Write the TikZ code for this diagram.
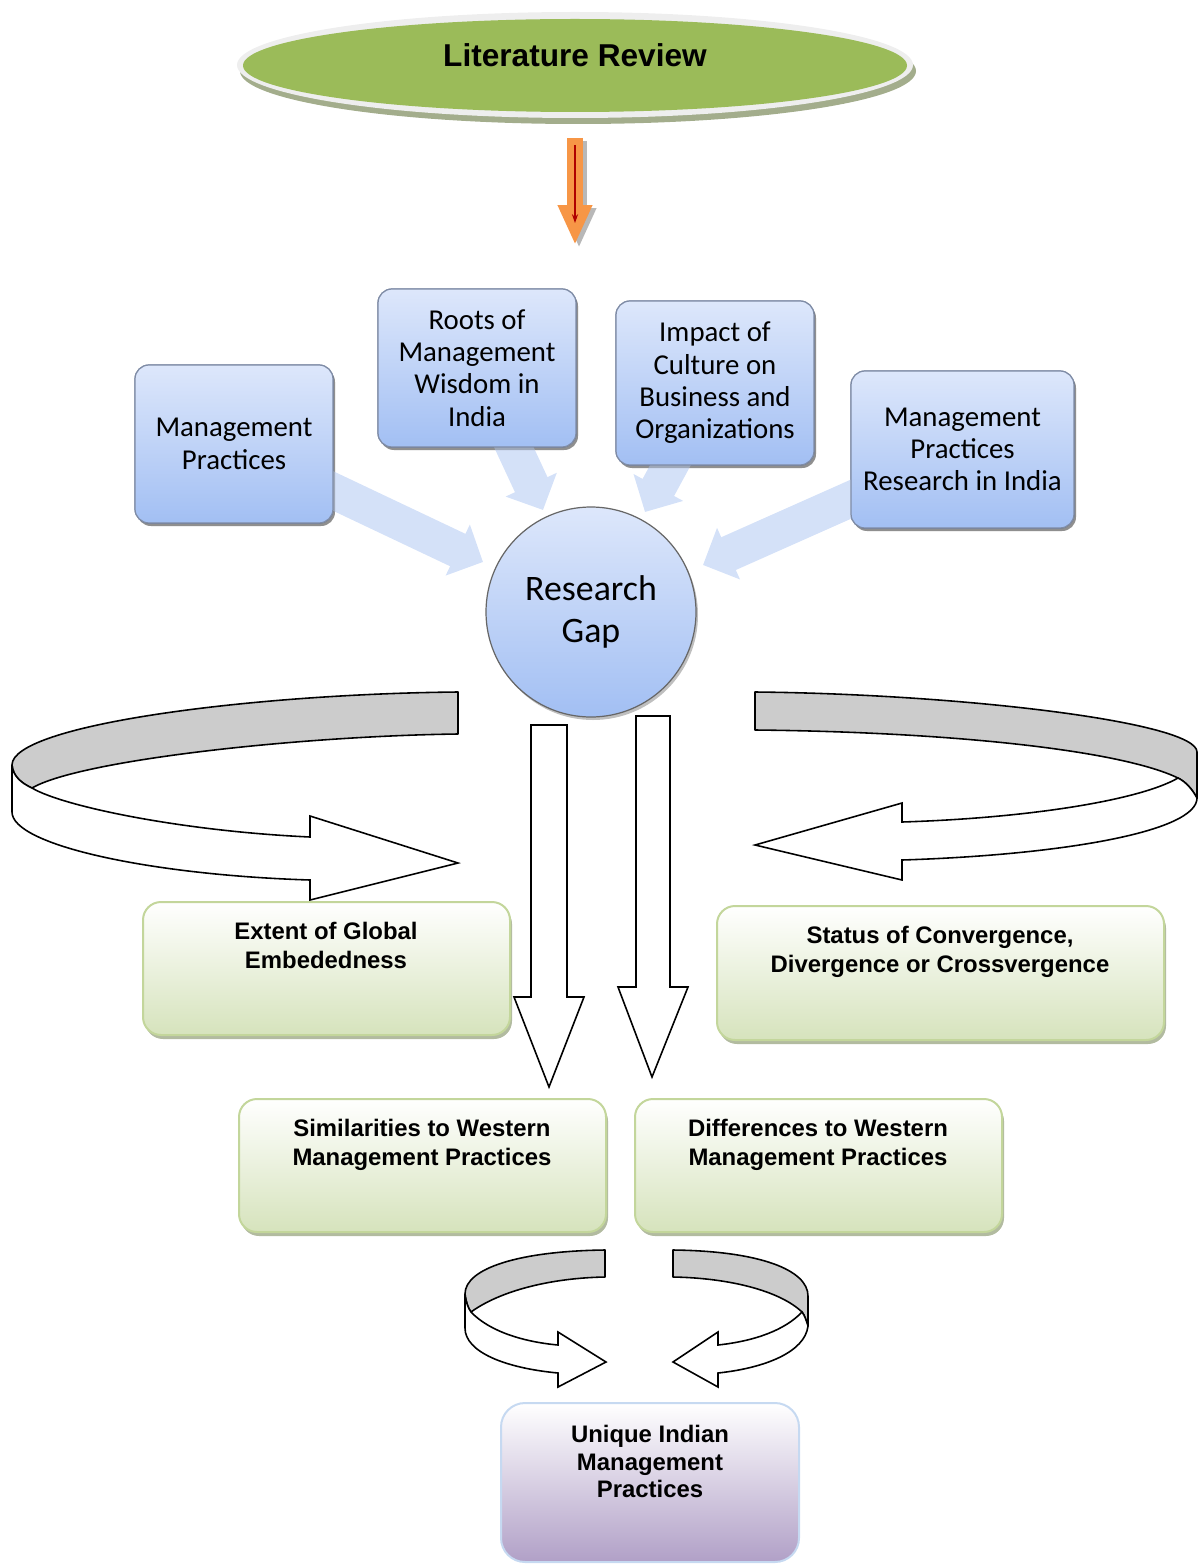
\documentclass[tikz,border=0pt]{standalone}
\usepackage{fontspec}
\setmainfont{Liberation Sans}
\newfontfamily\calibri{Carlito}
\usetikzlibrary{arrows.meta,shapes.geometric,shadows}

\newlength\pxu
\setlength\pxu{0.02cm}

\definecolor{litgreen}{HTML}{9BBB59}
\definecolor{litrim}{HTML}{EEEEEE}
\definecolor{litshadow}{HTML}{A3AD8C}
\definecolor{orangefill}{HTML}{F79646}
\definecolor{darkred}{HTML}{B00000}
\definecolor{bluetop}{HTML}{DDE7FB}
\definecolor{bluebottom}{HTML}{A2BFF3}
\definecolor{blueline}{HTML}{7F8CA6}
\definecolor{lbcol}{HTML}{D4E1F8}
\definecolor{greenline}{HTML}{C3D69B}
\definecolor{greenbottom}{HTML}{D6E3BC}
\definecolor{greenshadow}{HTML}{9FAA88}
\definecolor{sweepgrey}{HTML}{CCCCCC}
\definecolor{purplebottom}{HTML}{B1A0C7}
\definecolor{uniqueline}{HTML}{C6D9F1}

\begin{document}
\begin{tikzpicture}[x=0.02cm,y=-0.02cm,
  bluebox/.style={draw=blueline, line width=0.7pt, rounded corners=14\pxu,
    top color=bluetop, bottom color=bluebottom, align=center, inner sep=0pt,
    font=\calibri\fontsize{16.4pt}{18.4pt}\selectfont,
    drop shadow={shadow xshift=2\pxu, shadow yshift=-3\pxu, fill=black, opacity=0.25}},
  greenbox/.style={draw=greenline, line width=2\pxu, rounded corners=18\pxu,
    top color=white, bottom color=greenbottom, inner sep=0pt,
    drop shadow={shadow xshift=2\pxu, shadow yshift=-4\pxu, fill=greenshadow, opacity=0.8}},
  boxtext/.style={anchor=north, inner sep=0pt, align=center,
    font=\bfseries\fontsize{13.6pt}{16.4pt}\selectfont},
  lbarrow/.style={draw=lbcol, line width=20.4pt, -{Triangle[length=15.9pt,width=31.2pt]}},
  blockarrow/.style={draw=black, fill=white, line width=0.9pt, line join=miter},
  sweepback/.style={draw=black, fill=sweepgrey, line width=0.9pt, line join=round},
  sweepfront/.style={draw=black, fill=white, line width=0.9pt, line join=miter},
]
\useasboundingbox (0,0) rectangle (1200,1564);

% ---- title ellipse ----
\node[ellipse, fill=litshadow, minimum width=676\pxu, minimum height=106\pxu, inner sep=0pt] (litS) at (578,71) {};
\node[ellipse, fill=litrim, minimum width=676\pxu, minimum height=106\pxu, inner sep=0pt] (litR) at (575,65) {};
\node[ellipse, fill=litgreen, minimum width=664\pxu, minimum height=93\pxu, inner sep=0pt] (lit) at (575,65.5) {};
\node[font=\bfseries\fontsize{18pt}{20pt}\selectfont, inner sep=0pt] (litT) at (575,55) {Literature Review};

% ---- orange arrow ----
\coordinate (oTop) at (575,138);
\coordinate (oTip) at (575,245);
\coordinate (oTopS) at (579,141);
\coordinate (oTipS) at (579,248);
\draw[draw=gray!70, opacity=0.8, line width=9.6pt, -{Triangle[length=22.7pt,width=18.1pt]}] (oTopS) -- (oTipS);
\draw[draw=orangefill, line width=9.6pt, -{Triangle[length=22.7pt,width=18.1pt]}] (oTop) -- (oTip);
\coordinate (rTop) at (575,145);
\coordinate (rTip) at (575,223);
\draw[draw=darkred, line width=0.6pt, -{Stealth[length=5pt,width=3.5pt]}] (rTop) -- (rTip);

% ---- source boxes ----
\node[bluebox, minimum width=198\pxu, minimum height=158\pxu] (mp) at (234,444) {};
\node[bluebox, minimum width=198\pxu, minimum height=158\pxu] (roots) at (477,368) {};
\node[bluebox, minimum width=198\pxu, minimum height=164\pxu] (impact) at (715,383) {};
\node[bluebox, minimum width=223\pxu, minimum height=157\pxu] (mpr) at (962.5,449.5) {};

% ---- light arrows into the research gap ----
\coordinate (mpTip) at (483,562);
\coordinate (rootsTip) at (543,510);
\coordinate (impactTip) at (645,512);
\coordinate (mprTip) at (703,565);
\draw[lbarrow] (mp.center) -- (mpTip);
\draw[lbarrow] (roots.center) -- (rootsTip);
\draw[lbarrow] (impact.center) -- (impactTip);
\draw[lbarrow] (mpr.center) -- (mprTip);

% boxes again on top of the arrow shafts
\node[bluebox, minimum width=198\pxu, minimum height=158\pxu] (mpF) at (234,444) {Management\\Practices};
\node[bluebox, minimum width=198\pxu, minimum height=158\pxu] (rootsF) at (477,368) {Roots of\\Management\\Wisdom in\\India};
\node[bluebox, minimum width=198\pxu, minimum height=164\pxu] (impactF) at (715,383) {Impact of\\Culture on\\Business and\\Organizations};
\node[bluebox, minimum width=223\pxu, minimum height=157\pxu] (mprF) at (962.5,449.5) {Management\\Practices\\Research in India};

% ---- research gap ----
\node[circle, draw=gray!80!black, line width=0.7pt, top color=bluetop, bottom color=bluebottom,
  minimum size=210\pxu, inner sep=0pt, align=center,
  font=\calibri\fontsize{20.4pt}{23.8pt}\selectfont,
  drop shadow={shadow xshift=2\pxu, shadow yshift=-3\pxu, fill=black, opacity=0.25}]
  (rg) at (591,612) {Research\\Gap};

% ---- left sweep arrow ----
\filldraw[sweepback] (458,692) .. controls (250,694) and (12,725) .. (12,765)
  .. controls (13,776) and (21,783) .. (32,788)
  .. controls (80,760) and (300,736) .. (458,734) -- cycle;
\filldraw[sweepfront] (12,765) .. controls (13,776) and (21,783) .. (32,788)
  .. controls (62,806) and (180,831) .. (310,837) -- (310,816) -- (458,863)
  -- (310,900) -- (310,880) .. controls (150,875) and (12,845) .. (12,812) -- cycle;

% ---- right sweep arrow ----
\filldraw[sweepback] (755,692) .. controls (960,694) and (1197,722) .. (1197,752)
  -- (1197,798) .. controls (1192,789) and (1186,782) .. (1178,778)
  .. controls (1120,750) and (950,732) .. (755,730) -- cycle;
\filldraw[sweepfront] (1178,778) .. controls (1186,782) and (1192,789) .. (1197,798)
  .. controls (1197,832) and (1060,855) .. (902,860) -- (902,880) -- (755,845)
  -- (902,803) -- (902,822) .. controls (1030,818) and (1140,800) .. (1178,778) -- cycle;

% ---- down arrows ----
\filldraw[blockarrow] (531,725) -- (567,725) -- (567,997) -- (584,997) -- (549,1087)
  -- (514,997) -- (531,997) -- cycle;
\filldraw[blockarrow] (636,716) -- (670,716) -- (670,987) -- (688,987) -- (652,1077)
  -- (618,987) -- (636,987) -- cycle;

% ---- outcome boxes ----
\node[greenbox, minimum width=367\pxu, minimum height=133\pxu] (extent) at (326.5,968.5) {};
\node[boxtext] (extentT) at (326,922) {Extent of Global\\Embededness};
\node[greenbox, minimum width=447\pxu, minimum height=134\pxu] (status) at (940.5,973) {};
\node[boxtext] (statusT) at (940,926) {Status of Convergence,\\Divergence or Crossvergence};
\node[greenbox, minimum width=367\pxu, minimum height=133\pxu] (simil) at (422.5,1165.5) {};
\node[boxtext] (similT) at (422,1119) {Similarities to Western\\Management Practices};
\node[greenbox, minimum width=367\pxu, minimum height=133\pxu] (diff) at (818.5,1165.5) {};
\node[boxtext] (diffT) at (818,1119) {Differences to Western\\Management Practices};

% ---- small sweep arrows ----
\filldraw[sweepback] (605,1250) .. controls (520,1251) and (465,1268) .. (465,1294)
  .. controls (466,1302) and (468,1308) .. (471,1312)
  .. controls (500,1291) and (550,1278) .. (605,1277) -- cycle;
\filldraw[sweepfront] (465,1294) .. controls (466,1302) and (468,1308) .. (471,1312)
  .. controls (490,1332) and (525,1342) .. (558,1345) -- (558,1332) -- (606,1362)
  -- (558,1387) -- (558,1373) .. controls (505,1368) and (465,1352) .. (465,1328) -- cycle;

\filldraw[sweepback] (673,1250) .. controls (760,1251) and (808,1270) .. (808,1296)
  -- (808,1326) .. controls (806,1320) and (805,1316) .. (802,1312)
  .. controls (780,1291) and (730,1278) .. (673,1277) -- cycle;
\filldraw[sweepfront] (802,1312) .. controls (805,1316) and (806,1320) .. (808,1326)
  .. controls (805,1352) and (765,1368) .. (718,1373) -- (718,1387) -- (673,1362)
  -- (718,1332) -- (718,1345) .. controls (755,1341) and (785,1330) .. (802,1312) -- cycle;

% ---- final box ----
\node[draw=uniqueline, line width=2\pxu, rounded corners=24\pxu, top color=white,
  bottom color=purplebottom, minimum width=298\pxu, minimum height=159\pxu, inner sep=0pt]
  (unique) at (650,1482.5) {};
\node[boxtext, font=\bfseries\fontsize{13.6pt}{15.6pt}\selectfont] (uniqueT) at (650,1425)
  {Unique Indian\\Management\\Practices};
\end{tikzpicture}
\end{document}
